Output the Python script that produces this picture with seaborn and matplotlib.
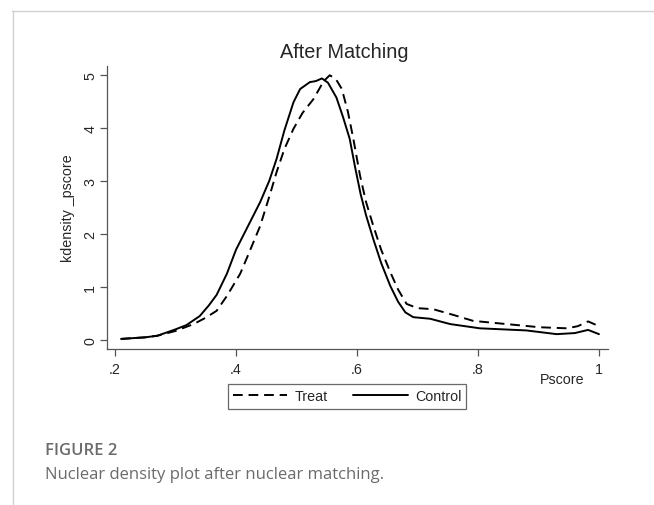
import numpy as np
import pandas as pd
import seaborn as sns
import matplotlib.pyplot as plt
from matplotlib.lines import Line2D

# density curves
treat_x = [0.21, 0.25, 0.27, 0.30, 0.33, 0.35, 0.368, 0.385, 0.407, 0.42, 0.44,
           0.455, 0.467, 0.48, 0.495, 0.51, 0.528, 0.545, 0.555, 0.565, 0.575,
           0.585, 0.594, 0.605, 0.615, 0.627, 0.64, 0.655, 0.668, 0.682, 0.70,
           0.726, 0.76, 0.792, 0.847, 0.902, 0.947, 0.965, 0.982, 1.0]
treat_y = [0.02, 0.05, 0.08, 0.17, 0.30, 0.42, 0.55, 0.83, 1.25, 1.60, 2.15,
           2.70, 3.16, 3.60, 3.98, 4.28, 4.54, 4.88, 4.99, 4.92, 4.73,
           4.30, 3.79, 3.10, 2.60, 2.15, 1.70, 1.28, 0.95, 0.68, 0.60,
           0.58, 0.47, 0.36, 0.30, 0.24, 0.22, 0.26, 0.35, 0.26]
control_x = [0.21, 0.25, 0.27, 0.30, 0.318, 0.34, 0.355, 0.368, 0.385, 0.40, 0.42,
             0.44, 0.455, 0.467, 0.48, 0.495, 0.506, 0.522, 0.532, 0.542, 0.552,
             0.566, 0.577, 0.588, 0.597, 0.606, 0.615, 0.627, 0.64, 0.655, 0.668,
             0.68, 0.693, 0.721, 0.754, 0.803, 0.88, 0.93, 0.96, 0.982, 1.0]
control_y = [0.02, 0.05, 0.08, 0.20, 0.28, 0.45, 0.65, 0.85, 1.25, 1.70, 2.15,
             2.60, 3.00, 3.41, 3.95, 4.48, 4.73, 4.86, 4.88, 4.93, 4.85,
             4.57, 4.20, 3.79, 3.25, 2.75, 2.35, 1.90, 1.45, 1.02, 0.72,
             0.52, 0.43, 0.40, 0.30, 0.22, 0.18, 0.11, 0.13, 0.19, 0.11]
groups = ["Treat", "Control"]
x_ticks = [0.2, 0.4, 0.6, 0.8, 1.0]
x_tick_labels = [".2", ".4", ".6", ".8", "1"]
y_ticks = [0, 1, 2, 3, 4, 5]

df = pd.concat([
    pd.DataFrame({"Pscore": treat_x, "kdensity": treat_y, "group": groups[0]}),
    pd.DataFrame({"Pscore": control_x, "kdensity": control_y, "group": groups[1]}),
])

sns.set_style("ticks")
plt.rcParams['font.family'] = ['Liberation Sans', 'DejaVu Sans']

fig = plt.figure(figsize=(6.54, 5.06), dpi=100)
ax = fig.add_axes([107 / 654, 1 - 350 / 506, 501 / 654, 283.3 / 506])

sns.lineplot(data=df, x="Pscore", y="kdensity", style="group",
             dashes={"Treat": (5, 3), "Control": ""}, color="black",
             linewidth=1.4, sort=True, estimator=None, legend=False, ax=ax)

ax.set_xlim(0.1868, 1.0149)
ax.set_ylim(-0.17, 5.17)
ax.set_xticks(x_ticks, x_tick_labels)
ax.set_yticks(y_ticks, [str(v) for v in y_ticks])
for lab in ax.get_yticklabels():
    lab.set_rotation(90)
    lab.set_va("center")
ax.tick_params(axis="both", labelsize=10.3, length=5, width=0.9, color="#555555",
               direction="out")
ax.tick_params(axis="x", pad=4)
ax.tick_params(axis="y", pad=2)
for s in ["top", "right"]:
    ax.spines[s].set_visible(False)
for s in ["left", "bottom"]:
    ax.spines[s].set_color("#555555")
    ax.spines[s].set_linewidth(0.9)

ax.set_ylabel("kdensity _pscore", fontsize=10.3, labelpad=6)
ax.set_xlabel("Pscore", fontsize=10.3)
ax.xaxis.set_label_coords((562 - 107) / 501, -30 / 283.3)
ax.xaxis.label.set_va("center")

fig.text(344 / 654, 1 - 53 / 506, "After Matching", ha="center", va="center",
         fontsize=14.3)

handles = [Line2D([], [], color="black", lw=1.4, linestyle=(0, (5, 3))),
           Line2D([], [], color="black", lw=1.4)]
leg = fig.legend(handles, groups, loc="center", ncol=2,
                 bbox_to_anchor=(347 / 654, 1 - 397.5 / 506), fontsize=10.3,
                 frameon=True, fancybox=False, handlelength=3.8,
                 handletextpad=0.5, columnspacing=1.8, borderpad=0.35)
leg.get_frame().set_edgecolor("#444444")
leg.get_frame().set_linewidth(0.9)

# page frame and caption
fig.add_artist(Line2D([12 / 654, 1], [1 - 12 / 506, 1 - 12 / 506],
                      transform=fig.transFigure, color="#d0d0d0", lw=1))
fig.add_artist(Line2D([13 / 654, 13 / 654], [0, 1 - 12 / 506],
                      transform=fig.transFigure, color="#d0d0d0", lw=1))
fig.text(45 / 654, 1 - 451 / 506, "FIGURE 2", ha="left", va="center",
         fontsize=12, family="Open Sans", fontweight="semibold", color="#6b6b6b")
fig.text(45 / 654, 1 - 475 / 506, "Nuclear density plot after nuclear matching.",
         ha="left", va="center", fontsize=12, family="Open Sans", color="#6b6b6b")

fig.savefig("out.png", dpi=100)
